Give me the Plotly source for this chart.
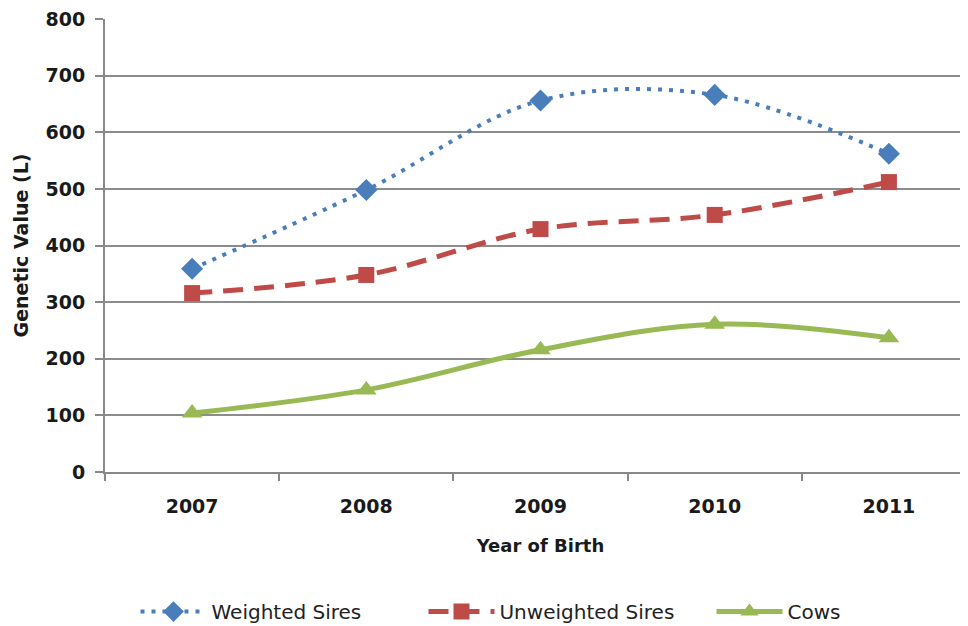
import plotly.graph_objects as go

years = ["2007", "2008", "2009", "2010", "2011"]
weighted_sires = [359, 498, 656, 666, 562]
unweighted_sires = [316, 348, 429, 454, 512]
cows = [104, 145, 216, 261, 237]
y_ticks = [0, 100, 200, 300, 400, 500, 600, 700, 800]

fig = go.Figure()
fig.add_trace(go.Scatter(
    x=years, y=weighted_sires, name="Weighted Sires", mode="lines+markers",
    line=dict(color="#4A7EBB", width=4, dash="4px,7px", shape="spline", smoothing=1),
    marker=dict(symbol="diamond", size=17, color="#4A7EBB"),
))
fig.add_trace(go.Scatter(
    x=years, y=unweighted_sires, name="Unweighted Sires", mode="lines+markers",
    line=dict(color="#BE4B48", width=5, dash="20px,11px", shape="spline", smoothing=1),
    marker=dict(symbol="square", size=16, color="#BE4B48"),
))
fig.add_trace(go.Scatter(
    x=years, y=cows, name="Cows", mode="lines+markers",
    line=dict(color="#98B954", width=5, shape="spline", smoothing=1),
    marker=dict(symbol="triangle-up", size=18, color="#98B954"),
))

font_family = "'DejaVu Sans', sans-serif"
fig.update_layout(
    width=968, height=626,
    margin=dict(l=97, r=0, t=11, b=162, autoexpand=False),
    paper_bgcolor="white", plot_bgcolor="white",
    font=dict(family=font_family, color="#1a1a1a"),
    showlegend=True,
    legend=dict(orientation="h", x=0.035, xanchor="left", y=-0.265, yanchor="top",
                font=dict(size=20, family=font_family, color="#222"),
                itemwidth=66, traceorder="normal",
                entrywidth=207, entrywidthmode="pixels"),
)
fig.update_xaxes(
    type="category", range=[-0.5, 4.5], automargin=False,
    showline=True, linecolor="#888", linewidth=2,
    ticks="outside", tickson="boundaries", ticklen=7, tickcolor="#888", tickwidth=2,
    tickfont=dict(size=19, family=font_family, color="#1a1a1a", weight="bold"),
    ticklabelstandoff=16,
    title=dict(text="<b>Year of Birth</b>", font=dict(size=18, family=font_family), standoff=24),
    showgrid=False,
)
fig.update_yaxes(
    range=[0, 800], tickvals=y_ticks, automargin=False,
    showline=True, linecolor="#888", linewidth=2,
    ticks="outside", ticklen=8, tickcolor="#888", tickwidth=2,
    showgrid=True, gridcolor="#8c8c8c", gridwidth=2,
    zeroline=False, ticklabeloverflow="allow",
    tickfont=dict(size=19, family=font_family, color="#1a1a1a", weight="bold"),
    ticklabelstandoff=6,
    title=dict(text="<b>Genetic Value (L)</b>", font=dict(size=19, family=font_family), standoff=12),
)

fig.write_html("out.html")
